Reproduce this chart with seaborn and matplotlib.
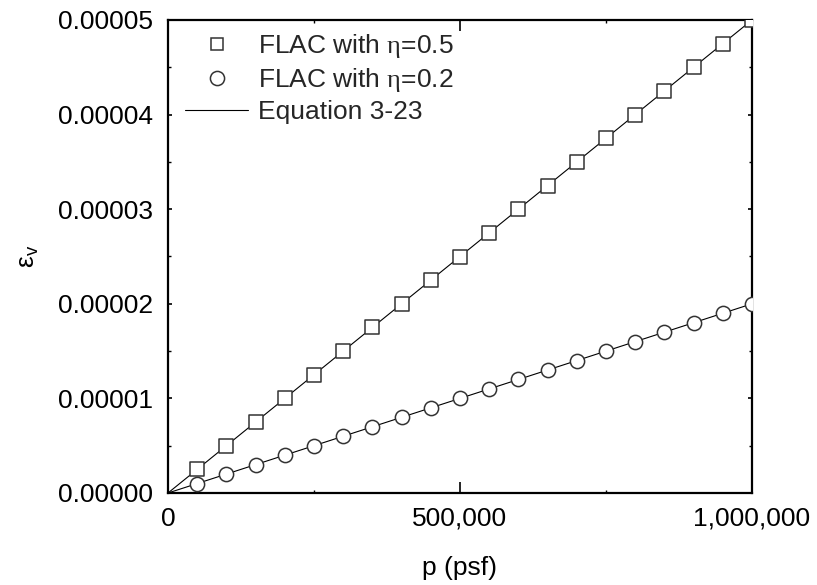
import matplotlib
matplotlib.use("Agg")
import matplotlib.pyplot as plt
from matplotlib.lines import Line2D
from matplotlib.ticker import FormatStrFormatter, FixedLocator, MultipleLocator
import seaborn as sns
import pandas as pd

# ---- data ----
p_sq = [50000, 100000, 150000, 200000, 250000, 300000, 350000, 400000, 450000, 500000,
        550000, 600000, 650000, 700000, 750000, 800000, 850000, 900000, 950000, 1000000]
eps_eta05 = [0.0000025, 0.000005, 0.0000075, 0.00001, 0.0000125, 0.000015, 0.0000175, 0.00002,
             0.0000225, 0.000025, 0.0000275, 0.00003, 0.0000325, 0.000035, 0.0000375, 0.00004,
             0.0000425, 0.000045, 0.0000475, 0.00005]
p_ci = [50000, 100000, 150000, 200000, 250000, 300000, 350000, 400000, 450000, 500000,
        550000, 600000, 650000, 700000, 750000, 800000, 850000, 900000, 950000, 1000000]
eps_eta02 = [0.000001, 0.000002, 0.000003, 0.000004, 0.000005, 0.000006, 0.000007, 0.000008,
             0.000009, 0.00001, 0.000011, 0.000012, 0.000013, 0.000014, 0.000015, 0.000016,
             0.000017, 0.000018, 0.000019, 0.00002]
p_eq = [0, 1000000]
eps_eq05 = [0, 0.00005]
eps_eq02 = [0, 0.00002]
x_ticks = [0, 500000, 1000000]
x_tick_labels = ["0", "500,000", "1,000,000"]
labels = ["FLAC with $\\mathrm{\\eta}$=0.5", "FLAC with $\\mathrm{\\eta}$=0.2", "Equation 3-23"]

sns.set_theme(style="ticks")
plt.rcParams["font.family"] = ["Liberation Sans", "DejaVu Sans"]
plt.rcParams["mathtext.fontset"] = "custom"
plt.rcParams["mathtext.rm"] = "Liberation Serif"
plt.rcParams["mathtext.default"] = "regular"

fig = plt.figure(figsize=(8.17, 5.85), dpi=100)
ax = fig.add_axes([168/817, 1 - 493/585, (752-168)/817, (493-20)/585])

fs = 19
edge = "#333333"

sns.lineplot(x=p_eq, y=eps_eq05, ax=ax, color="black", lw=0.8, zorder=2)
sns.lineplot(x=p_eq, y=eps_eq02, ax=ax, color="black", lw=0.8, zorder=2)
sns.scatterplot(x=p_sq, y=eps_eta05, ax=ax, marker="s", s=90, facecolor="white",
                edgecolor=edge, linewidth=1.1, zorder=3)
sns.scatterplot(x=p_ci, y=eps_eta02, ax=ax, marker="o", s=105, facecolor="white",
                edgecolor=edge, linewidth=1.1, zorder=3)

ax.set_xlim(0, 1000000)
ax.set_ylim(0, 0.00005)
ax.xaxis.set_major_locator(FixedLocator(x_ticks))
ax.set_xticklabels(x_tick_labels)
ax.xaxis.set_minor_locator(MultipleLocator(250000))
ax.yaxis.set_major_locator(MultipleLocator(0.00001))
ax.yaxis.set_minor_locator(MultipleLocator(0.000005))
ax.yaxis.set_major_formatter(FormatStrFormatter("%.5f"))

for s in ax.spines.values():
    s.set_linewidth(1.6)
    s.set_color("black")
    s.set_visible(True)

ax.tick_params(axis="x", which="major", direction="in", length=8, width=1.2,
               labelsize=fs, pad=10, top=True, colors="black")
ax.tick_params(axis="y", which="major", direction="in", length=3, width=1.2,
               labelsize=fs, pad=11, right=True, colors="black")
ax.tick_params(axis="both", which="minor", direction="in", length=2, width=1.0,
               top=True, right=True, colors="black")

ax.set_xlabel("p (psf)", fontsize=fs, labelpad=18, color="black")
ax.set_ylabel("ε$_{\\mathregular{v}}$", fontsize=fs, labelpad=12, color="black")

handles = [
    Line2D([], [], ls="none", marker="s", ms=9.2, mfc="white", mec=edge, mew=1.1),
    Line2D([], [], ls="none", marker="o", ms=10.2, mfc="white", mec=edge, mew=1.1),
    Line2D([], [], color="black", lw=0.8),
]
ax.legend(handles, labels, loc="upper left", frameon=False, fontsize=fs,
          handlelength=2.4, handletextpad=0.35, labelspacing=0.23,
          borderaxespad=0, borderpad=0, bbox_to_anchor=(0.029, 0.974))

fig.savefig("out.png", dpi=100)
